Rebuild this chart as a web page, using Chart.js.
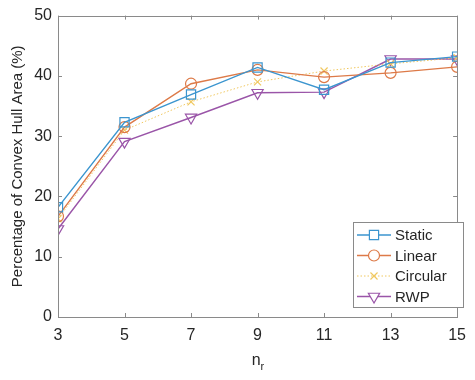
<!DOCTYPE html>
<html><head><meta charset="utf-8">
<script src="https://cdn.jsdelivr.net/npm/chart.js@4"></script>
<style>html,body{margin:0;padding:0;background:#fff}#wrap{width:475px;height:380px}</style>
</head><body><div id="wrap"><canvas id="c" width="475" height="380"></canvas></div>
<script>
const categories = [3, 5, 7, 9, 11, 13, 15];
const staticVals = [18.2, 32.3, 36.9, 41.4, 37.7, 42.2, 43.2];
const linearVals = [16.7, 31.5, 38.7, 41.0, 39.8, 40.5, 41.5];
const circularVals = [16.3, 31.0, 35.7, 39.0, 40.8, 42.0, 43.0];
const rwpVals = [14.6, 29.1, 33.1, 37.2, 37.3, 42.8, 42.8];
const yTicks = [0, 10, 20, 30, 40, 50];
const seriesNames = ['Static', 'Linear', 'Circular', 'RWP'];

const FONT = 'Liberation Sans, Arial, Helvetica, sans-serif';
const TXT = '#262626';
const AX = '#8a8a8a';

const colors = ['#3b95cf', '#dd7a48', '#f0c860', '#9a55a8'];
const styles = [
  {pointStyle: 'rect', pointRadius: 6.5, dash: [], width: 1.4},
  {pointStyle: 'circle', pointRadius: 5.5, dash: [], width: 1.4},
  {pointStyle: 'crossRot', pointRadius: 5, dash: [1.5, 2], width: 1},
  {pointStyle: 'triangle', pointRadius: 6.5, dash: [], width: 1.4, rot: 180},
];
const vals = [staticVals, linearVals, circularVals, rwpVals];

const datasets = seriesNames.map((n, i) => ({
  label: n,
  data: categories.map((x, j) => ({x: x, y: vals[i][j]})),
  borderColor: colors[i],
  backgroundColor: 'rgba(0,0,0,0)',
  pointBorderColor: colors[i],
  pointBackgroundColor: 'rgba(0,0,0,0)',
  pointStyle: styles[i].pointStyle,
  pointRadius: styles[i].pointRadius,
  pointRotation: styles[i].rot || 0,
  pointBorderWidth: 1.2,
  borderWidth: styles[i].width,
  borderDash: styles[i].dash,
  tension: 0,
  fill: false,
}));

const boxPlugin = {
  id: 'boxPlugin',
  afterDraw(chart) {
    const {ctx, chartArea: a, scales} = chart;
    ctx.save();
    ctx.strokeStyle = AX;
    ctx.lineWidth = 1;
    ctx.strokeRect(Math.round(a.left) + 0.5, Math.round(a.top) + 0.5, Math.round(a.right - a.left), Math.round(a.bottom - a.top));
    const tl = 4;
    ctx.beginPath();
    categories.forEach(v => {
      const x = Math.round(scales.x.getPixelForValue(v)) + 0.5;
      ctx.moveTo(x, a.bottom); ctx.lineTo(x, a.bottom - tl);
      ctx.moveTo(x, a.top); ctx.lineTo(x, a.top + tl);
    });
    yTicks.forEach(v => {
      const y = Math.round(scales.y.getPixelForValue(v)) + 0.5;
      ctx.moveTo(a.left, y); ctx.lineTo(a.left + tl, y);
      ctx.moveTo(a.right, y); ctx.lineTo(a.right - tl, y);
    });
    ctx.stroke();

    // x axis title n_r
    ctx.fillStyle = TXT;
    ctx.textBaseline = 'alphabetic';
    ctx.font = '16px ' + FONT;
    const cx = (a.left + a.right) / 2;
    ctx.textAlign = 'right';
    ctx.fillText('n', cx + 3, 365);
    ctx.font = '11px ' + FONT;
    ctx.textAlign = 'left';
    ctx.fillText('r', cx + 3, 370);

    // legend
    const lx = 353, ly = 222, lw = 110, lh = 85;
    ctx.fillStyle = '#fff';
    ctx.fillRect(lx, ly, lw, lh);
    ctx.strokeStyle = AX;
    ctx.strokeRect(lx + 0.5, ly + 0.5, lw, lh);
    chart.data.datasets.forEach((ds, i) => {
      const yy = ly + 13 + i * 20.5;
      ctx.save();
      ctx.strokeStyle = ds.borderColor;
      ctx.lineWidth = ds.borderWidth;
      ctx.setLineDash(ds.borderDash);
      ctx.beginPath();
      ctx.moveTo(lx + 4, yy); ctx.lineTo(lx + 38, yy);
      ctx.stroke();
      ctx.setLineDash([]);
      ctx.lineWidth = 1.2;
      ctx.fillStyle = '#ffffff';
      ctx.strokeStyle = ds.borderColor;
      Chart.helpers.drawPoint(ctx, {pointStyle: ds.pointStyle, radius: ds.pointRadius, rotation: ds.pointRotation, borderWidth: 1.2}, lx + 21, yy);
      ctx.restore();
      ctx.fillStyle = TXT;
      ctx.font = '15px ' + FONT;
      ctx.textAlign = 'left';
      ctx.textBaseline = 'middle';
      ctx.fillText(ds.label, lx + 42, yy + 1);
    });
    ctx.restore();
  }
};

new Chart(document.getElementById('c'), {
  type: 'line',
  data: {datasets},
  options: {
    responsive: false,
    animation: false,
    devicePixelRatio: 1,
    layout: {padding: {top: 12, right: 11, left: 0, bottom: 0}},
    plugins: {legend: {display: false}, tooltip: {enabled: false}},
    scales: {
      x: {
        type: 'linear', min: 3, max: 15,
        afterBuildTicks: s => { s.ticks = categories.map(v => ({value: v})); },
        afterFit: s => { s.height = 63; },
        grid: {display: false, drawTicks: false},
        border: {display: false},
        ticks: {color: TXT, font: {family: FONT, size: 16}, padding: 9, maxRotation: 0, autoSkip: false},
      },
      y: {
        min: 0, max: 50,
        afterBuildTicks: s => { s.ticks = yTicks.map(v => ({value: v})); },
        afterFit: s => { s.width = 58; },
        grid: {display: false, drawTicks: false},
        border: {display: false},
        ticks: {color: TXT, font: {family: FONT, size: 16}, padding: 6},
        title: {display: true, text: 'Percentage of Convex Hull Area (%)', color: TXT, font: {family: FONT, size: 15}, padding: {top: 9, bottom: 0}},
      }
    }
  },
  plugins: [boxPlugin]
});
</script></body></html>
